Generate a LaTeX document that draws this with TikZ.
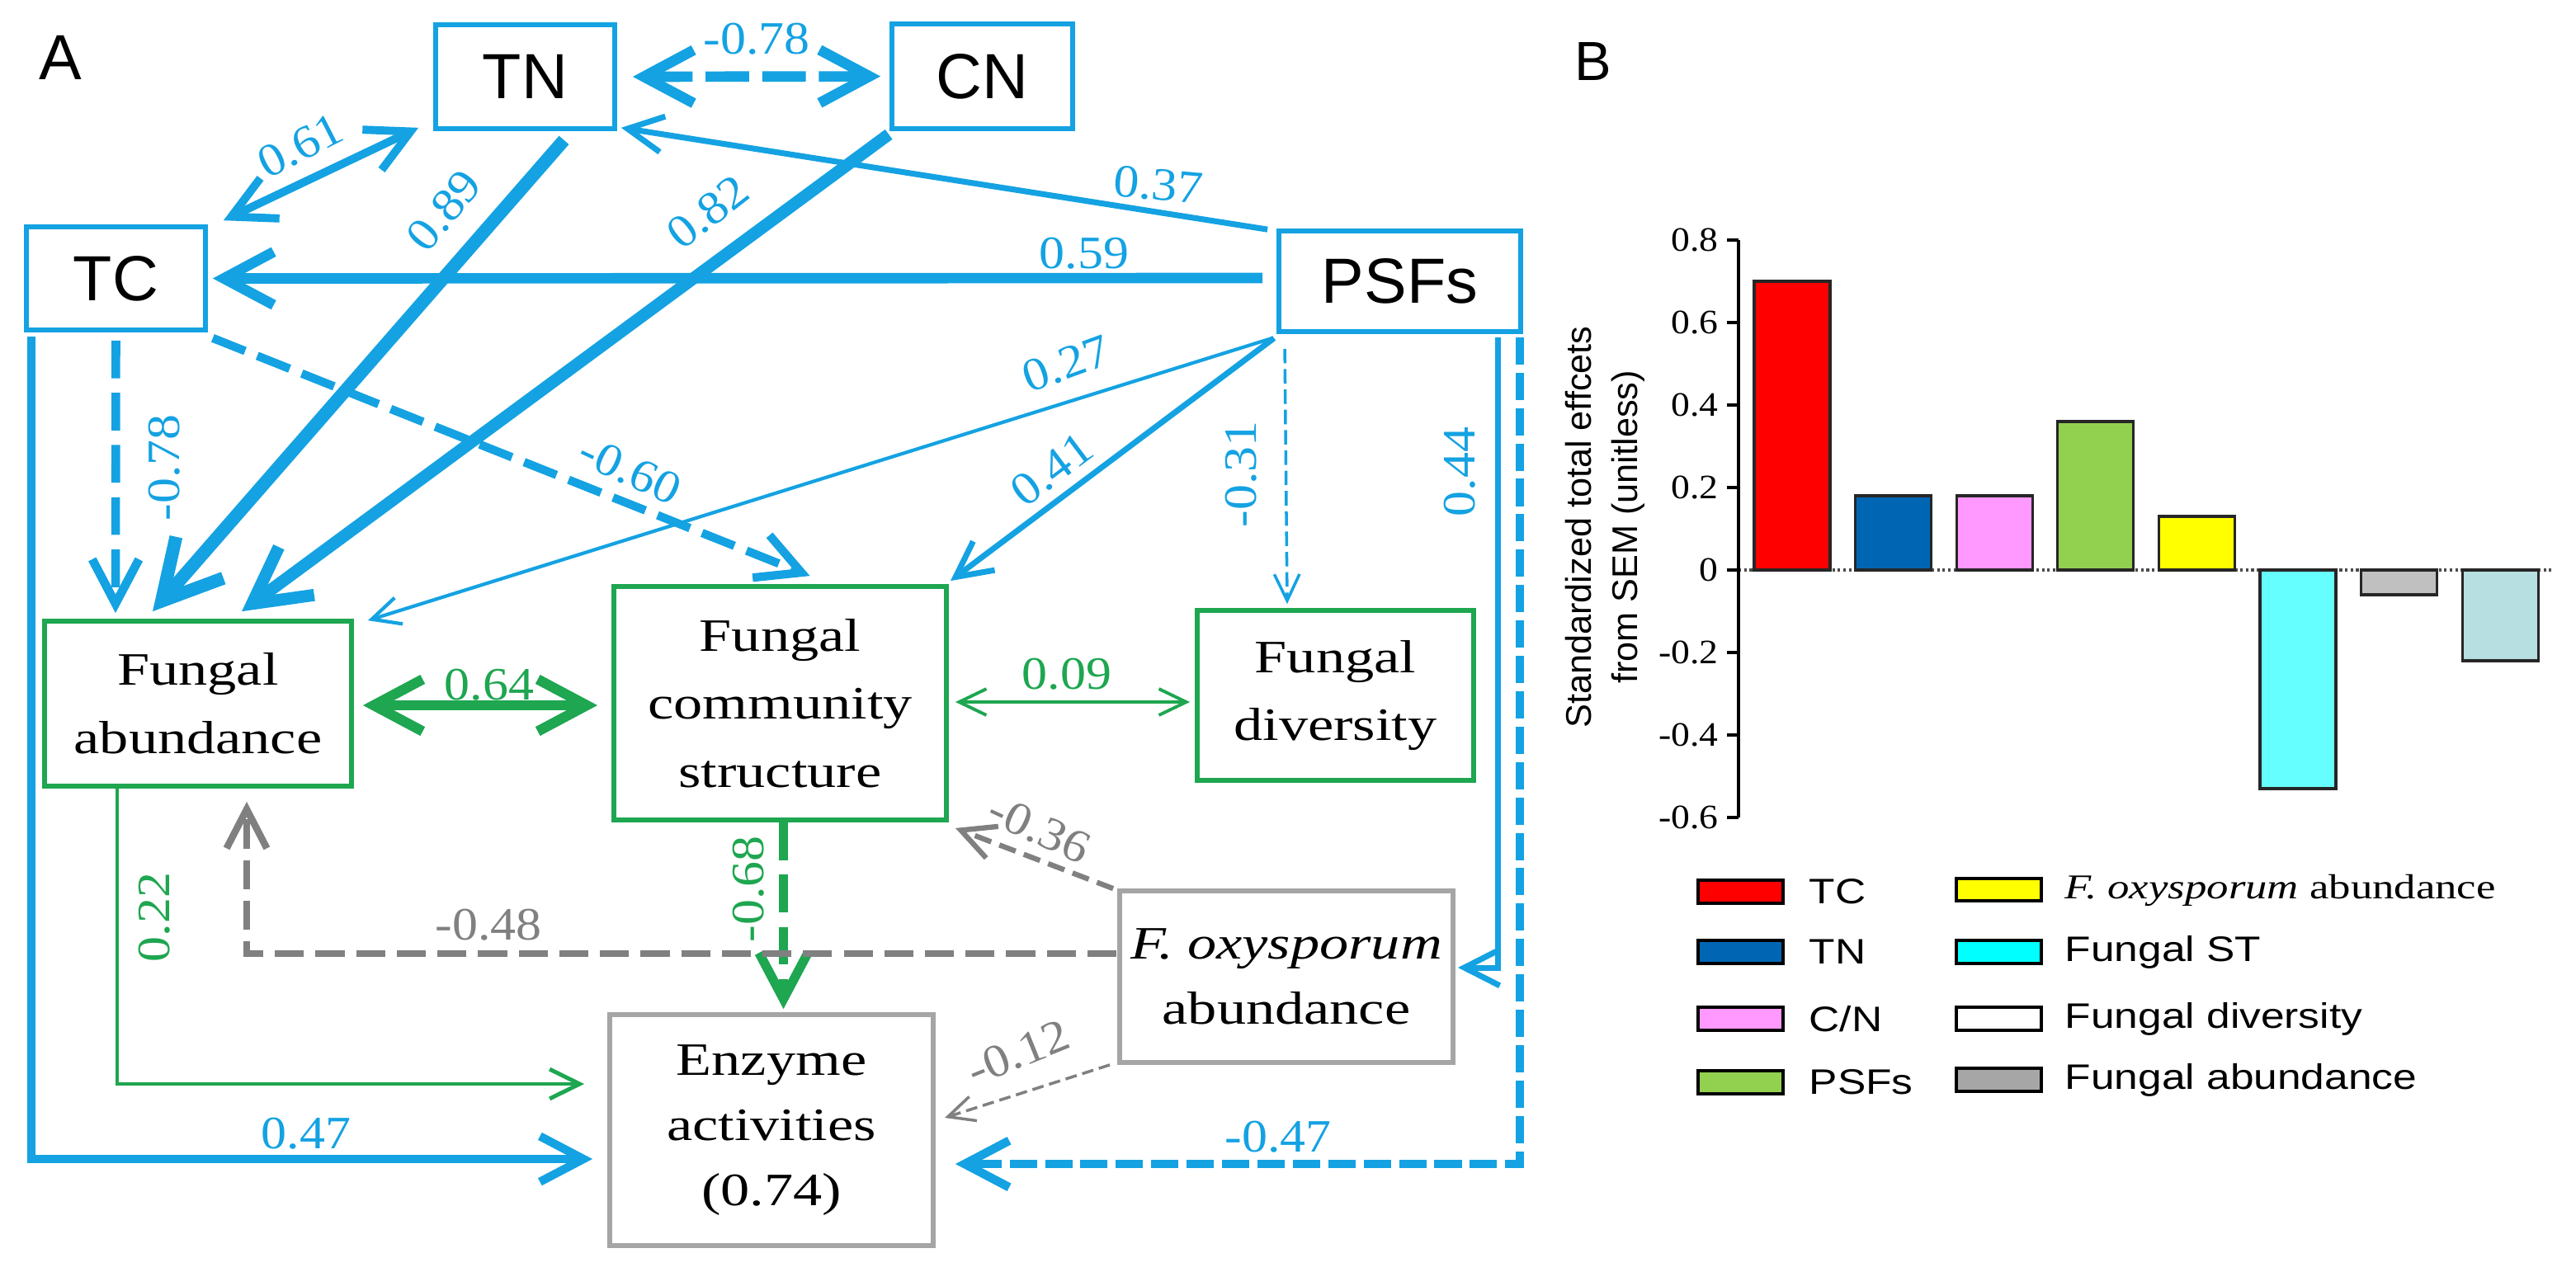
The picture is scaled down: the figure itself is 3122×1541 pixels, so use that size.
\documentclass[tikz,border=0pt]{standalone}
\usepackage{fontspec}
\usepackage{graphicx}
\usetikzlibrary{arrows.meta}
\setmainfont{Liberation Serif}
\newfontfamily\arialf{Liberation Sans}
\newcommand\sw[1]{\scalebox{1.25}[1]{#1}}
\newcommand\se[1]{\scalebox{1.1}[1]{#1}}
\newcommand\sa[1]{\scalebox{1.2}[1]{#1}}
\definecolor{cblue}{RGB}{20,162,226}
\definecolor{cgreen}{RGB}{30,166,80}
\definecolor{cgray}{RGB}{128,128,128}
\definecolor{cboxgray}{RGB}{165,165,165}
\definecolor{bred}{RGB}{255,0,0}
\definecolor{bblue}{RGB}{0,102,180}
\definecolor{bpink}{RGB}{255,153,255}
\definecolor{bgreen}{RGB}{146,208,80}
\definecolor{byellow}{RGB}{255,255,0}
\definecolor{bcyan}{RGB}{102,255,255}
\definecolor{lcyan}{RGB}{0,255,255}
\definecolor{bgray}{RGB}{192,192,192}
\definecolor{lgray}{RGB}{166,166,166}
\definecolor{blight}{RGB}{183,222,224}
\begin{document}
\begin{tikzpicture}[x=0.01cm,y=-0.01cm,
  >={Straight Barb[length=6pt 3.1,width=5pt 3.7]},
  sbox/.style={draw=cblue, line width=1.6pt, inner sep=0pt,
    font=\arialf\fontsize{22pt}{26pt}\selectfont},
  gbox/.style={draw=cgreen, line width=1.6pt, inner sep=0pt, align=center,
    font=\rmfamily\fontsize{16pt}{23.5pt}\selectfont},
  ybox/.style={draw=cboxgray, line width=1.6pt, inner sep=0pt, align=center,
    font=\rmfamily\fontsize{16pt}{22.5pt}\selectfont},
  lab/.style={inner sep=0pt, font=\rmfamily\fontsize{16pt}{18pt}\selectfont},
  blab/.style={lab, text=cblue},
  glab/.style={lab, text=cgreen},
  ylab/.style={lab, text=cgray},
  tick/.style={inner sep=0pt, anchor=east, font=\rmfamily\fontsize{11.8pt}{14pt}\selectfont},
  leg/.style={inner sep=0pt, anchor=west, font=\arialf\fontsize{12.2pt}{14pt}\selectfont},
  swatch/.style={draw=black, line width=1.1pt},
  bar/.style={draw=black!85, line width=0.9pt}
]
\useasboundingbox (0,0) rectangle (3122,1541);

% ---------------- Panel A ----------------
\node[inner sep=0pt, font=\arialf\fontsize{22pt}{24pt}\selectfont] (pA) at (73,70) {A};

\node[sbox, minimum width=2.17cm, minimum height=1.26cm] (TN) at (636.5,93) {TN};
\node[sbox, minimum width=2.19cm, minimum height=1.27cm] (CN) at (1190.5,92.5) {CN};
\node[sbox, minimum width=2.17cm, minimum height=1.25cm] (TC) at (140.5,337.5) {TC};
\node[sbox, minimum width=2.93cm, minimum height=1.22cm] (PSFs) at (1696.5,341) {PSFs};
\node[gbox, minimum width=3.72cm, minimum height=2.00cm] (FA) at (240,853) {\sw{Fungal}\\\sw{abundance}};
\node[gbox, minimum width=4.03cm, minimum height=2.83cm] (FCS) at (945.5,852.5) {\sw{Fungal}\\\sw{community}\\\sw{structure}};
\node[gbox, minimum width=3.35cm, minimum height=2.06cm] (FD) at (1618.5,843) {\sw{Fungal}\\\sw{diversity}};
\node[ybox, minimum width=4.04cm, minimum height=2.08cm] (Fox) at (1559,1184) {\sw{\itshape F. oxysporum}\\\sw{abundance}};
\node[ybox, minimum width=3.92cm, minimum height=2.80cm] (EA) at (935,1370) {\sw{Enzyme}\\\sw{activities}\\\sw{(0.74)}};

% blue connectors
\draw[cblue, line width=3.6pt, dash pattern=on 15pt off 4.5pt, <->]
  ([shift={(19,0)}]TN.east) -- ([shift={(-11,0)}]CN.west);
\draw[cblue, line width=2.8pt, <->]
  ([shift={(19,-5)}]TC.north east) -- ([shift={(-18,-4)}]TN.south west);
\draw[cblue, line width=2pt, ->]
  ([shift={(-11,1)}]PSFs.north west) -- ([shift={(5,-4)}]TN.south east);
\draw[cblue, line width=3.6pt, ->]
  ([shift={(-17,-4)}]PSFs.west) -- ([shift={(6,0)}]TC.east);
\draw[cblue, line width=4.5pt, ->]
  ([shift={(47,11)}]TN.south) -- ([shift={(-55,-9)}]FA.north);
\draw[cblue, line width=4.2pt, ->]
  ([shift={(-1,4)}]CN.south west) -- ([shift={(53,-9)}]FA.north);
\draw[cblue, line width=3pt, dash pattern=on 13pt off 5pt, ->]
  ([shift={(0,10)}]TC.south) -- ([shift={(-100,-7)}]FA.north);
\draw[cblue, line width=2.9pt, dash pattern=on 12pt off 4.5pt, ->]
  ([shift={(6,7)}]TC.south east) -- ([shift={(36,-10)}]FCS.north);
\draw[cblue, line width=1.2pt, ->]
  ([shift={(-5,5)}]PSFs.south west) -- ([shift={(17,2)}]FA.north east);
\draw[cblue, line width=2pt, ->]
  ([shift={(-3,5)}]PSFs.south west) -- ([shift={(2,-4)}]FCS.north east);
\draw[cblue, line width=1pt, dash pattern=on 5pt off 2pt, ->]
  ([shift={(10,18)}]PSFs.south west) -- ([shift={(-58.5,-5)}]FD.north);
\draw[cblue, line width=2pt, ->]
  ([shift={(-30,4)}]PSFs.south east) |- ([shift={(3,-11)}]Fox.east);
\draw[cblue, line width=3pt, dash pattern=on 9.4pt off 2.8pt, ->]
  ([shift={(-4,4)}]PSFs.south east) |- ([shift={(24,41)}]EA.east);
\draw[cblue, line width=2.9pt, ->]
  ([shift={(9,5)}]TC.south west) |- ([shift={(-18,35)}]EA.west);

% green connectors
\draw[cgreen, line width=3.5pt, <->]
  ([shift={(11,2)}]FA.east) -- ([shift={(-17,2.5)}]FCS.west);
\draw[cgreen, line width=1.1pt, <->]
  ([shift={(8,-1.5)}]FCS.east) -- ([shift={(-6,8)}]FD.west);
\draw[cgreen, line width=1.4pt, ->]
  ([shift={(-98,0)}]FA.south) |- ([shift={(-28,-56)}]EA.west);
\draw[cgreen, line width=3.2pt, dash pattern=on 13pt off 5pt, ->]
  ([shift={(4,0)}]FCS.south) -- ([shift={(14.5,-4)}]EA.north);

% gray connectors
\draw[cgray, line width=2.4pt, dash pattern=on 10pt off 4pt, ->]
  ([shift={(-1,-28)}]Fox.west) -| ([shift={(59,16)}]FA.south);
\draw[cgray, line width=1.8pt, dash pattern=on 6pt off 3pt, ->]
  ([shift={(-5,0)}]Fox.north west) -- ([shift={(8,7)}]FCS.south east);
\draw[cgray, line width=1pt, dash pattern=on 4pt off 2pt, ->]
  ([shift={(-9,0)}]Fox.south west) -- ([shift={(11,-15)}]EA.east);

% connector labels
\node[blab] (L1) at (917,47) {\se{-0.78}};
\node[blab, rotate=27] (L2) at (364,177) {\se{0.61}};
\node[blab, rotate=-5] (L3) at (1404,224) {\se{0.37}};
\node[blab] (L4) at (1314,307) {\se{0.59}};
\node[blab, rotate=50] (L5) at (538,255) {\se{0.89}};
\node[blab, rotate=38] (L6) at (858,257) {\se{0.82}};
\node[blab, rotate=90] (L7) at (199,567) {\se{-0.78}};
\node[blab, rotate=-25] (L8) at (764,570) {\se{-0.60}};
\node[blab, rotate=20] (L9) at (1292,441) {\se{0.27}};
\node[blab, rotate=37] (L10) at (1275,569) {\se{0.41}};
\node[blab, rotate=90] (L11) at (1504,575) {\se{-0.31}};
\node[blab, rotate=90] (L12) at (1769,572) {\se{0.44}};
\node[blab] (L13) at (1549,1378) {\se{-0.47}};
\node[blab] (L14) at (371,1374) {\se{0.47}};
\node[glab] (L15) at (593,830) {\se{0.64}};
\node[glab] (L16) at (1293,817) {\se{0.09}};
\node[glab, rotate=90] (L17) at (187,1112) {\se{0.22}};
\node[glab, rotate=90] (L18) at (907,1078) {\se{-0.68}};
\node[ylab] (L19) at (592,1121) {\se{-0.48}};
\node[ylab, rotate=-25] (L20) at (1260,1005) {\se{-0.36}};
\node[ylab, rotate=22] (L21) at (1234,1276) {\se{-0.12}};

% ---------------- Panel B ----------------
\node[inner sep=0pt, font=\arialf\fontsize{19pt}{21pt}\selectfont] (pB) at (1931,75) {B};

\node[inner sep=0pt, rotate=90, align=center,
  font=\arialf\fontsize{12.3pt}{16pt}\selectfont] (ylab) at (1945,639)
  {Standardized total effcets\\from SEM (unitless)};

\draw[black!70, line width=0.9pt, densely dotted] (2107,691) -- (3093,691);

\foreach \i/\v/\c in {0/0.70/bred, 1/0.18/bblue, 2/0.18/bpink, 3/0.36/bgreen,
                      4/0.13/byellow, 5/-0.53/bcyan, 6/-0.06/bgray, 7/-0.22/blight}{
  \draw[bar, fill=\c] ({2126+122.6*\i},691) rectangle ({2218+122.6*\i},{691-500*\v});
}

\draw[black, line width=1.2pt] (2107,291) -- (2107,991);
\foreach \v/\t in {0.8/0.8, 0.6/0.6, 0.4/0.4, 0.2/0.2, 0/0, -0.2/-0.2, -0.4/-0.4, -0.6/-0.6}{
  \draw[black, line width=1.1pt] (2093,{691-500*\v}) -- (2107,{691-500*\v});
  \node[tick] at (2083,{691-500*\v}) {\se{\t}};
}

% legend
\foreach \y/\c/\t in {1081/bred/TC, 1154/bblue/TN, 1235/bpink/{C/N}, 1312/bgreen/PSFs}{
  \draw[swatch, fill=\c] (2058,\y-14) rectangle (2161,\y+14);
  \node[leg] at (2192,\y) {\sa{\t}};
}
\foreach \y/\c/\t in {1154/lcyan/Fungal ST, 1235/white/Fungal diversity, 1309/lgray/Fungal abundance}{
  \draw[swatch, fill=\c] (2371,\y-14) rectangle (2474,\y+14);
  \node[leg] at (2502,\y) {\sa{\t}};
}
\draw[swatch, fill=byellow] (2371,1065) rectangle (2474,1092);
\node[inner sep=0pt, anchor=west, font=\rmfamily\fontsize{12pt}{14pt}\selectfont] (legfox) at (2502,1079)
  {\sw{\textit{F. oxysporum} abundance}};
\end{tikzpicture}
\end{document}
